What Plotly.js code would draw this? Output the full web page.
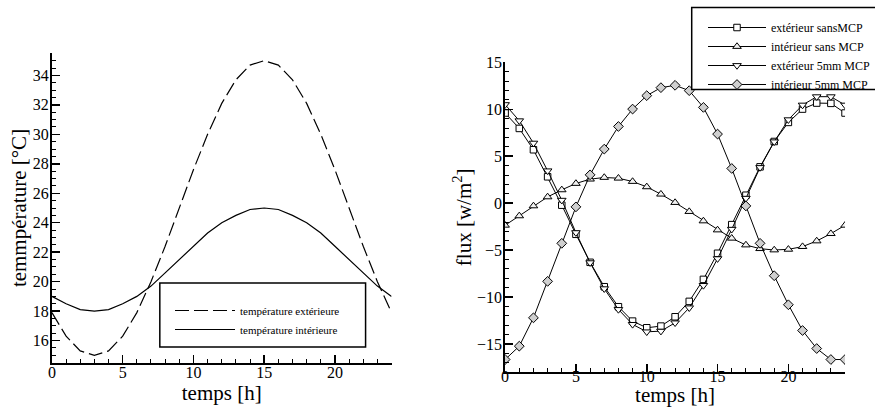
<!DOCTYPE html>
<html>
<head>
<meta charset="utf-8">
<script src="https://cdn.plot.ly/plotly-3.0.1.min.js"></script>
<style>html,body{margin:0;padding:0;background:#fff;}#chart{width:875px;height:407px;}</style>
</head>
<body>
<div id="chart"></div>
<script>
const hours = [0,1,2,3,4,5,6,7,8,9,10,11,12,13,14,15,16,17,18,19,20,21,22,23,24];

const tempExt = [17.9,16.3,15.3,15.0,15.3,16.3,17.9,20.0,22.4,25.0,27.6,30.0,32.1,33.7,34.7,35.0,34.7,33.7,32.1,30.0,27.6,25.0,22.4,20.0,17.9];
const tempInt = [19.0,18.5,18.1,18.0,18.1,18.5,19.0,19.7,20.6,21.5,22.4,23.3,24.0,24.5,24.9,25.0,24.9,24.5,24.0,23.3,22.4,21.5,20.6,19.7,19.0];

const fluxExtSans = [9.6,7.96,5.69,2.81,-0.21,-3.31,-6.29,-8.89,-11.02,-12.55,-13.26,-13.08,-12.09,-10.45,-8.11,-5.33,-2.28,0.85,3.87,6.57,8.6,10.02,10.66,10.63,9.6];
const fluxIntSans = [-2.35,-1.35,-0.29,0.67,1.42,2.1,2.56,2.74,2.66,2.31,1.74,0.96,0.07,-0.89,-1.89,-2.85,-3.73,-4.45,-4.84,-4.98,-4.91,-4.62,-4.02,-3.24,-2.35];
const fluxExt5mm = [10.5,8.78,6.4,3.45,0.32,-3.13,-6.33,-9.1,-11.31,-12.9,-13.69,-13.62,-12.73,-11.13,-8.75,-5.9,-2.77,0.53,3.8,6.54,8.89,10.45,11.34,11.34,10.45];
const fluxInt5mm = [-16.64,-15.22,-12.2,-8.32,-4.27,-0.39,3.02,5.76,8.17,10.02,11.45,12.3,12.55,11.98,10.2,7.36,3.7,-0.29,-4.27,-7.72,-10.81,-13.55,-15.47,-16.64,-16.64];

const leftNames = ['température extérieure','température intérieure'];
const rightNames = ['extérieur sansMCP','intérieur sans MCP','extérieur 5mm MCP','intérieur 5mm MCP'];

const FONT = 'Liberation Serif';
const W = 875, H = 407;
const px = v => v / W;
const py = v => 1 - v / H;

const lineStyle = {color:'#000', width:1};
const traces = [
  {x:hours, y:tempExt, name:leftNames[0], mode:'lines', line:{color:'#000', width:1.2, dash:'14px,5px'}, xaxis:'x', yaxis:'y', legend:'legend'},
  {x:hours, y:tempInt, name:leftNames[1], mode:'lines', line:{color:'#000', width:1.2}, xaxis:'x', yaxis:'y', legend:'legend'},
  {x:hours, y:fluxExtSans, name:rightNames[0], mode:'lines+markers', line:lineStyle,
   marker:{symbol:'square', size:6.5, color:'#fff', line:{color:'#000', width:1}}, xaxis:'x2', yaxis:'y2', legend:'legend2'},
  {x:hours, y:fluxIntSans, name:rightNames[1], mode:'lines+markers', line:lineStyle,
   marker:{symbol:'triangle-up', size:7.5, color:'#f2f2f2', line:{color:'#000', width:1}}, xaxis:'x2', yaxis:'y2', legend:'legend2'},
  {x:hours, y:fluxExt5mm, name:rightNames[2], mode:'lines+markers', line:lineStyle,
   marker:{symbol:'triangle-down', size:7.5, color:'#fff', line:{color:'#000', width:1}}, xaxis:'x2', yaxis:'y2', legend:'legend2'},
  {x:hours, y:fluxInt5mm, name:rightNames[3], mode:'lines+markers', line:lineStyle,
   marker:{symbol:'diamond', size:7.5, color:'#cfcfcf', line:{color:'#000', width:1}}, xaxis:'x2', yaxis:'y2', legend:'legend2'}
];

function axisBase() {
  return {
    showline:true, linecolor:'#000', linewidth:2, mirror:false,
    showgrid:false, zeroline:false,
    ticks:'inside', ticklen:8, tickwidth:1.5, tickcolor:'#000',
    tickfont:{family:FONT, size:16, color:'#000'},
    fixedrange:true
  };
}
function titleFont() { return {family:FONT, size:21, color:'#000'}; }

const layout = {
  width:W, height:H,
  margin:{l:0, r:0, t:0, b:0},
  paper_bgcolor:'#fff', plot_bgcolor:'rgba(0,0,0,0)',
  font:{family:FONT, color:'#000', size:14},
  showlegend:true,
  xaxis: Object.assign(axisBase(), {
    domain:[px(52), px(392)], range:[0,24], dtick:5, tick0:0, anchor:'y',
    ticklabelstandoff:-6,
    minor:{dtick:1, ticks:'inside', ticklen:4, tickwidth:1, tickcolor:'#000'},
    title:{text:'temps [h]', font:titleFont(), standoff:0}
  }),
  yaxis: Object.assign(axisBase(), {
    domain:[py(362.7), py(53.3)], range:[14.5,35.5], dtick:2, tick0:0, anchor:'x',
    ticklabelstandoff:-2,
    minor:{dtick:0.5, ticks:'inside', ticklen:4, tickwidth:1, tickcolor:'#000'},
    title:{text:'temmpérature [°C]', font:titleFont(), standoff:0}
  }),
  xaxis2: Object.assign(axisBase(), {
    domain:[px(505.7), px(846)], range:[0,24], dtick:5, tick0:0, anchor:'y2',
    ticklabelstandoff:-12,
    minor:{dtick:1, ticks:'inside', ticklen:4, tickwidth:1, tickcolor:'#000'},
    title:{text:'temps [h]', font:titleFont(), standoff:0}
  }),
  yaxis2: Object.assign(axisBase(), {
    domain:[py(372.3), py(62.3)], range:[-18,15], dtick:5, tick0:0, anchor:'x2',
    ticklabelstandoff:-2,
    minor:{dtick:1, ticks:'inside', ticklen:4, tickwidth:1, tickcolor:'#000'},
    title:{text:'flux [w/m<sup>2</sup>]', font:titleFont(), standoff:0}
  }),
  legend:{
    x:px(170), y:py(296), xanchor:'left', yanchor:'top',
    traceorder:'normal', tracegroupgap:0,
    bgcolor:'rgba(0,0,0,0)', borderwidth:0, itemwidth:60,
    font:{family:FONT, size:11, color:'#000'}
  },
  legend2:{
    x:px(704), y:py(13), xanchor:'left', yanchor:'top',
    traceorder:'normal', tracegroupgap:0,
    bgcolor:'rgba(0,0,0,0)', borderwidth:0, itemwidth:58,
    font:{family:FONT, size:12, color:'#000'}
  },
  shapes:[
    {type:'rect', xref:'paper', yref:'paper', x0:px(160), x1:px(366), y0:py(347), y1:py(283),
     line:{color:'#000', width:1.5}, fillcolor:'#fff', layer:'below'},
    {type:'rect', xref:'paper', yref:'paper', x0:px(692.5), x1:px(890), y0:py(89.5), y1:py(7.5),
     line:{color:'#000', width:1.5}, fillcolor:'#fff', layer:'above'}
  ]
};

Plotly.newPlot('chart', traces, layout, {displayModeBar:false, staticPlot:true});
</script>
</body>
</html>
